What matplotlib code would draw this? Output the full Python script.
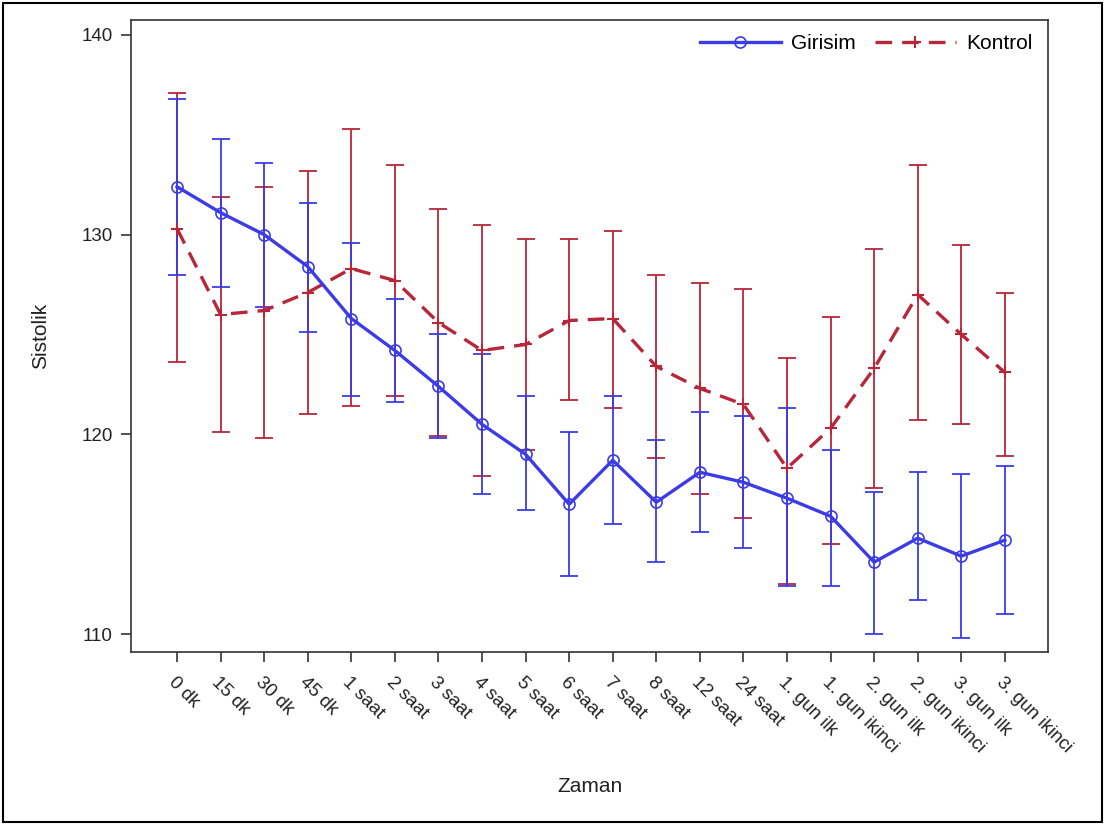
import matplotlib
matplotlib.use("Agg")
import matplotlib.pyplot as plt
from matplotlib.patches import Rectangle
import numpy as np

plt.rcParams['font.family'] = ['Liberation Sans', 'DejaVu Sans']

categories = ["0 dk", "15 dk", "30 dk", "45 dk", "1 saat", "2 saat", "3 saat", "4 saat",
              "5 saat", "6 saat", "7 saat", "8 saat", "12 saat", "24 saat", "1. gun ilk",
              "1. gun ikinci", "2. gun ilk", "2. gun ikinci", "3. gun ilk", "3. gun ikinci"]

girisim_mean = [132.4, 131.1, 130.0, 128.4, 125.8, 124.2, 122.4, 120.5, 119.0, 116.5,
                118.7, 116.6, 118.1, 117.6, 116.8, 115.9, 113.6, 114.8, 113.9, 114.7]
girisim_upper = [136.8, 134.8, 133.6, 131.6, 129.6, 126.8, 125.0, 124.0, 121.9, 120.1,
                 121.9, 119.7, 121.1, 120.9, 121.3, 119.2, 117.1, 118.1, 118.0, 118.4]
girisim_lower = [128.0, 127.4, 126.4, 125.1, 121.9, 121.6, 119.8, 117.0, 116.2, 112.9,
                 115.5, 113.6, 115.1, 114.3, 112.4, 112.4, 110.0, 111.7, 109.8, 111.0]

kontrol_mean = [130.3, 126.0, 126.2, 127.1, 128.3, 127.7, 125.6, 124.2, 124.5, 125.7,
                125.8, 123.4, 122.3, 121.5, 118.3, 120.3, 123.3, 127.0, 125.0, 123.1]
kontrol_upper = [137.1, 131.9, 132.4, 133.2, 135.3, 133.5, 131.3, 130.5, 129.8, 129.8,
                 130.2, 128.0, 127.6, 127.3, 123.8, 125.9, 129.3, 133.5, 129.5, 127.1]
kontrol_lower = [123.6, 120.1, 119.8, 121.0, 121.4, 121.9, 119.9, 117.9, 119.2, 121.7,
                 121.3, 118.8, 117.0, 115.8, 112.5, 114.5, 117.3, 120.7, 120.5, 118.9]

yticks = [110, 120, 130, 140]

blue = '#3b3be8'
red = '#b8263a'

fig = plt.figure(figsize=(11.05, 8.25), dpi=100)
ax = fig.add_axes([0.1186, 0.2097, 0.9484 - 0.1186, 0.9758 - 0.2097])

x = np.arange(len(categories))
gm = np.array(girisim_mean)
km = np.array(kontrol_mean)

ax.errorbar(x, km, yerr=[km - np.array(kontrol_lower), np.array(kontrol_upper) - km],
            fmt='none', ecolor=red, elinewidth=1.3, capsize=6.5, capthick=1.3, zorder=2)
ax.errorbar(x, gm, yerr=[gm - np.array(girisim_lower), np.array(girisim_upper) - gm],
            fmt='none', ecolor=blue, elinewidth=1.3, capsize=6.5, capthick=1.3, zorder=2)

ax.plot(x, km, color=red, lw=2.4, ls=(0, (5, 3)), marker='+', ms=9, mew=1.5,
        label='Kontrol', zorder=3)
ax.plot(x, gm, color=blue, lw=2.4, marker='o', ms=8, mfc='none', mec=blue, mew=1.2,
        label='Girisim', zorder=4)

ax.set_xlim(-1.055, 19.99)
ax.set_ylim(109.1, 140.75)
ax.set_yticks(yticks)
ax.set_yticklabels([str(t) for t in yticks], fontsize=13.5)
ax.set_xticks(x)
ax.set_xticklabels(categories, rotation=-45, ha='left', va='top', rotation_mode='anchor',
                   fontsize=13.5)
ax.tick_params(axis='both', length=7, width=1.2, color='#333333', labelcolor='#222222')
ax.tick_params(axis='x', pad=9)
ax.tick_params(axis='y', pad=6)
for s in ax.spines.values():
    s.set_linewidth(1.2)
    s.set_color('#333333')

ax.set_xlabel('Zaman', fontsize=15, color='#222222')
ax.xaxis.set_label_coords(0.5, -0.198)
ax.set_ylabel('Sistolik', fontsize=15, color='#222222')
ax.yaxis.set_label_coords(-0.088, 0.5)

handles, labels = ax.get_legend_handles_labels()
leg = ax.legend(handles[::-1], labels[::-1], loc='upper right', ncol=2, frameon=False,
                fontsize=15, handlelength=3.9, columnspacing=0.9, handletextpad=0.5,
                bbox_to_anchor=(1.004, 1.007))

fig.patches.append(Rectangle((0.003, 0.004), 0.994, 0.992, transform=fig.transFigure,
                             fill=False, edgecolor='black', lw=1.5))

fig.savefig('out.png', dpi=100)
